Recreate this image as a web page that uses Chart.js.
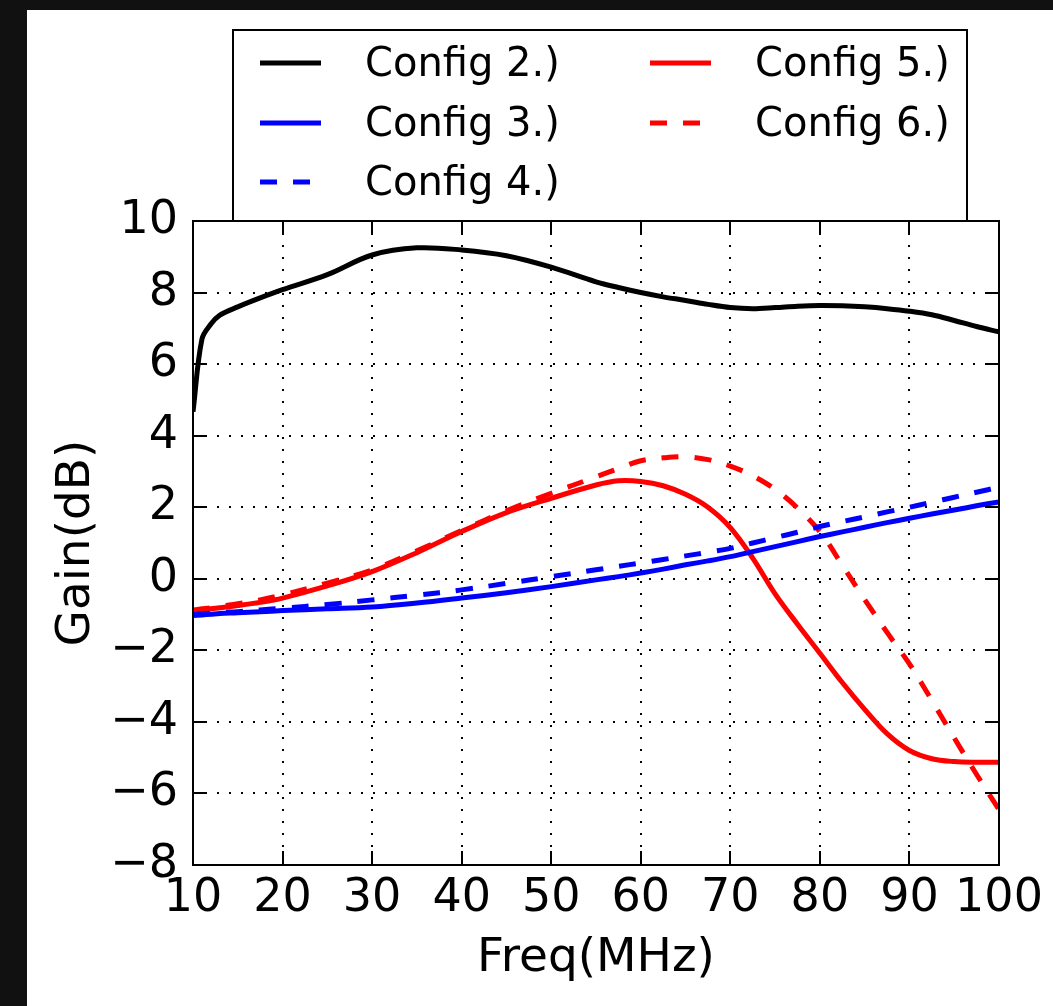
<!doctype html>
<html lang="en">
<head>
<meta charset="utf-8">
<title>Gain vs Freq</title>
<script src="https://cdn.jsdelivr.net/npm/chart.js@4.4.0/dist/chart.umd.min.js"></script>
<style>
  html, body { margin: 0; padding: 0; background: #111; }
  #wrap { position: absolute; left: 27px; top: 10px; width: 1026px; height: 996px; background: #fff; }
</style>
</head>
<body>
<div id="wrap"><canvas id="gain-chart"></canvas></div>
<script>
// frequency points (MHz) shared by all curves
const freq = [10, 11, 12, 13, 15, 17.5, 20, 25, 30, 35, 40, 45, 50, 55, 57.5, 60, 62.5, 65, 67.5, 70,
              72.5, 75, 77.5, 80, 82.5, 85, 87.5, 90, 92.5, 95, 97.5, 100];

// gain in dB
const config2 = [4.67, 6.7, 7.12, 7.37, 7.6, 7.85, 8.08, 8.5, 9.05, 9.25, 9.19, 9.03, 8.71, 8.3, 8.14, 8.0,
                 7.88, 7.78, 7.67, 7.58, 7.55, 7.58, 7.62, 7.64, 7.63, 7.6, 7.55, 7.48, 7.38, 7.22, 7.05, 6.9];
const config3 = [-1.03, -1.01, -0.99, -0.97, -0.95, -0.92, -0.89, -0.84, -0.79, -0.68, -0.54, -0.39, -0.22, -0.03, 0.06, 0.16,
                 0.27, 0.39, 0.5, 0.62, 0.76, 0.9, 1.04, 1.18, 1.31, 1.44, 1.57, 1.69, 1.81, 1.92, 2.04, 2.15];
const config4 = [-1.0, -0.98, -0.96, -0.94, -0.92, -0.87, -0.82, -0.72, -0.59, -0.46, -0.31, -0.13, 0.06, 0.25, 0.35, 0.44,
                 0.54, 0.64, 0.74, 0.85, 1.0, 1.15, 1.3, 1.46, 1.6, 1.73, 1.87, 2.0, 2.14, 2.28, 2.42, 2.56];
const config5 = [-0.89, -0.87, -0.84, -0.81, -0.75, -0.66, -0.54, -0.2, 0.2, 0.73, 1.32, 1.85, 2.25, 2.62, 2.74, 2.72,
                 2.6, 2.36, 2.0, 1.43, 0.58, -0.42, -1.27, -2.08, -2.9, -3.65, -4.33, -4.8, -5.03, -5.11, -5.13, -5.13];
const config6 = [-0.87, -0.84, -0.81, -0.77, -0.7, -0.59, -0.45, -0.12, 0.25, 0.78, 1.35, 1.9, 2.39, 2.85, 3.08, 3.3,
                 3.38, 3.41, 3.33, 3.15, 2.88, 2.5, 1.98, 1.32, 0.38, -0.58, -1.5, -2.38, -3.4, -4.45, -5.47, -6.45];

const FONT = "'DejaVu Sans', sans-serif";
const LINE_W = 5;

function points(gain) {
  return freq.map((f, i) => ({ x: f, y: gain[i] }));
}

// frame, inward ticks and the two-column legend, matplotlib style
const framePlugin = {
  id: 'frame',
  afterDraw(chart) {
    const ctx = chart.ctx;
    const a = chart.chartArea;
    const xs = chart.scales.x, ys = chart.scales.y;
    ctx.save();
    ctx.strokeStyle = '#000';
    ctx.lineWidth = 2;
    ctx.beginPath();
    xs.ticks.forEach(t => {
      const px = Math.round(xs.getPixelForValue(t.value));
      ctx.moveTo(px, a.bottom); ctx.lineTo(px, a.bottom - 14);
      ctx.moveTo(px, a.top); ctx.lineTo(px, a.top + 14);
    });
    ys.ticks.forEach(t => {
      const py = Math.round(ys.getPixelForValue(t.value));
      ctx.moveTo(a.left, py); ctx.lineTo(a.left + 14, py);
      ctx.moveTo(a.right, py); ctx.lineTo(a.right - 14, py);
    });
    ctx.stroke();
    ctx.strokeRect(a.left, a.top, a.right - a.left, a.bottom - a.top);

    // legend box
    const box = { left: 206, top: 20, right: 940, bottom: a.top };
    ctx.fillStyle = '#fff';
    ctx.fillRect(box.left, box.top, box.right - box.left, box.bottom - box.top);
    ctx.strokeRect(box.left, box.top, box.right - box.left, box.bottom - box.top);

    const rows = [53, 113, 172];
    const cols = [{ x0: 233, x1: 294, tx: 338 }, { x0: 623, x1: 684, tx: 728 }];
    ctx.font = '40px ' + FONT;
    ctx.textBaseline = 'middle';
    ctx.textAlign = 'left';
    chart.data.datasets.forEach((ds, i) => {
      const c = cols[Math.floor(i / 3)];
      const y = rows[i % 3];
      ctx.strokeStyle = ds.borderColor;
      ctx.lineWidth = LINE_W;
      ctx.setLineDash(ds.borderDash || []);
      ctx.beginPath();
      ctx.moveTo(c.x0, y); ctx.lineTo(c.x1, y);
      ctx.stroke();
      ctx.setLineDash([]);
      ctx.fillStyle = '#000';
      ctx.fillText(ds.label, c.tx, y + 3);
    });
    ctx.restore();
  }
};

const ctx = document.getElementById('gain-chart');
new Chart(ctx, {
  type: 'line',
  data: {
    datasets: [
      { label: 'Config 2.)', data: points(config2), borderColor: '#000000', borderWidth: LINE_W },
      { label: 'Config 3.)', data: points(config3), borderColor: '#0000ff', borderWidth: LINE_W },
      { label: 'Config 4.)', data: points(config4), borderColor: '#0000ff', borderWidth: LINE_W, borderDash: [17, 16] },
      { label: 'Config 5.)', data: points(config5), borderColor: '#ff0000', borderWidth: LINE_W },
      { label: 'Config 6.)', data: points(config6), borderColor: '#ff0000', borderWidth: LINE_W, borderDash: [17, 16] }
    ]
  },
  options: {
    responsive: true,
    maintainAspectRatio: false,
    animation: false,
    layout: { padding: { left: 0, top: 211, right: 54, bottom: 0 } },
    elements: {
      point: { radius: 0 },
      line: { tension: 0.35, fill: false }
    },
    plugins: {
      legend: { display: false },
      tooltip: { enabled: false }
    },
    scales: {
      x: {
        type: 'linear',
        min: 10,
        max: 100,
        ticks: { stepSize: 10, color: '#000', padding: 6, maxRotation: 0, autoSkip: false,
                 font: { family: FONT, size: 46 } },
        grid: { color: '#000', lineWidth: 2, drawTicks: false },
        border: { display: false, dash: [2, 10] },
        title: { display: true, text: 'Freq(MHz)', color: '#000',
                 font: { family: FONT, size: 47 }, padding: { top: 0, bottom: 19 } },
        afterFit: s => { s.height = 141; }
      },
      y: {
        min: -8,
        max: 10,
        ticks: { stepSize: 2, color: '#000', padding: 15,
                 font: { family: FONT, size: 46 },
                 callback: v => String(v).replace('-', '\u2212') },
        grid: { color: '#000', lineWidth: 2, drawTicks: false },
        border: { display: false, dash: [2, 10] },
        title: { display: true, text: 'Gain(dB)', color: '#000',
                 font: { family: FONT, size: 47 }, padding: { top: 22, bottom: 0 } },
        afterFit: s => { s.width = 166; }
      }
    }
  },
  plugins: [framePlugin]
});
</script>
</body>
</html>
